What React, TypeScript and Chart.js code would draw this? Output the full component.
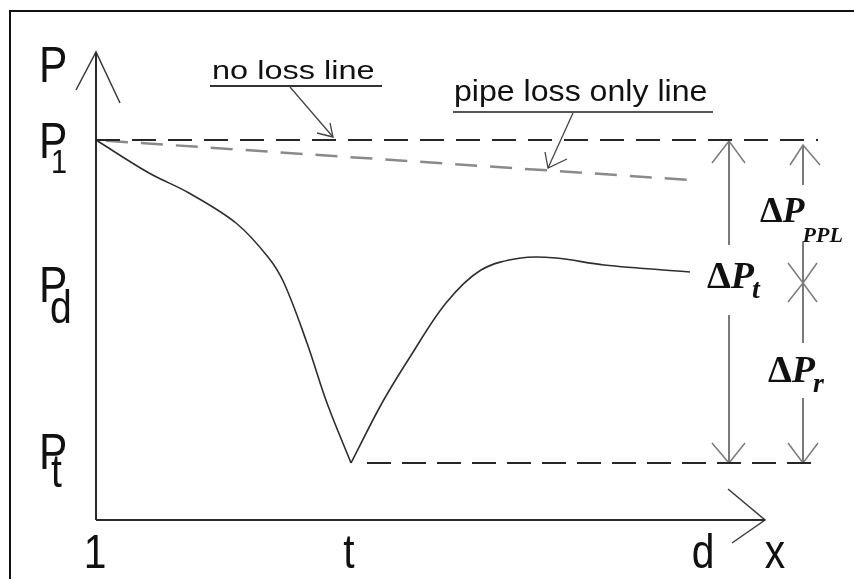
import { useEffect, useRef } from "react";
import { Chart, registerables } from "chart.js";

Chart.register(...registerables);

// Pressure levels, measured up from the distance axis
const P_1 = 380;
const P_D = 236;
const P_T = 57;
// Stations along the pipe, measured from the inlet
const X_T = 255;
const X_D = 594;
const X_END = 722;

// Actual pressure profile through the restriction
const profileDistance = [0, 53, 93, 140, 172, 188, 211, 231, 255, 286, 314, 350, 385, 425, 460, 508, 594];
const profilePressure = [380, 347, 327, 297, 263, 237, 177, 117, 57, 117, 163, 217, 250, 262, 262, 255, 248];

// Reference lines
const noLossDistance = [0, 722];
const noLossPressure = [380, 380];
const pipeLossDistance = [0, 594];
const pipeLossPressure = [380, 340];
const throatDistance = [271, 722];
const throatPressure = [57, 57];

// Axes with hand-drawn arrow heads
const pressureAxis = { x: [0, 0], y: [0, 468] };
const pressureArrow = { x: [-20, 0, 24], y: [430, 468, 417] };
const distanceAxis = { x: [0, 669], y: [0, 0] };
const distanceArrow = { x: [632, 669, 636], y: [31, 0, -23] };

// Leader lines pointing at the reference lines
const noLossLeader = { x: [194, 237], y: [433, 383] };
const noLossLeaderHead = { x: [234, 237, 221], y: [397, 383, 387] };
const noLossUnderline = { x: [114, 286], y: [434, 434] };
const pipeLossLeader = { x: [477, 452], y: [407, 352] };
const pipeLossLeaderHead = { x: [449, 452, 471], y: [368, 352, 361] };
const pipeLossUnderline = { x: [357, 617], y: [408, 408] };

// Dimension arrows for the pressure differences
const DIM_T = 633;
const DIM_R = 707;
const dimTotalUpper = { x: [DIM_T, DIM_T], y: [379, 275] };
const dimTotalUpperHead = { x: [616, DIM_T, 649], y: [357, 379, 357] };
const dimTotalLower = { x: [DIM_T, DIM_T], y: [205, 57] };
const dimTotalLowerHead = { x: [616, DIM_T, 649], y: [77, 57, 77] };
const dimPplUpper = { x: [DIM_R, DIM_R], y: [375, 335] };
const dimPplUpperHead = { x: [694, DIM_R, 724], y: [355, 375, 355] };
const dimMid = { x: [DIM_R, DIM_R], y: [278, 177] };
const dimMidDownHead = { x: [692, DIM_R, 721], y: [257, 237, 257] };
const dimMidUpHead = { x: [692, DIM_R, 721], y: [218, 237, 218] };
const dimRecLower = { x: [DIM_R, DIM_R], y: [122, 57] };
const dimRecLowerHead = { x: [692, DIM_R, 722], y: [77, 57, 77] };

const SANS = '"Liberation Sans", Arial, sans-serif';
const SERIF = '"Liberation Serif", "Times New Roman", serif';
const INK = "#111111";

type Poly = { x: number[]; y: number[] };

function pts(xs: number[], ys: number[]) {
  return xs.map((v, i) => ({ x: v, y: ys[i] }));
}

function polyline(p: Poly, color: string, width: number, dash: number[] = [], dashOffset = 0) {
  return {
    data: pts(p.x, p.y),
    showLine: true,
    borderColor: color,
    borderWidth: width,
    borderDash: dash,
    borderDashOffset: dashOffset,
    borderCapStyle: "butt",
    borderJoinStyle: "miter",
    pointRadius: 0,
    tension: 0,
    fill: false,
    clip: false,
  };
}

function text(
  ctx: CanvasRenderingContext2D,
  s: string,
  px: number,
  py: number,
  font: string,
  scaleX = 1,
  align: CanvasTextAlign = "left"
) {
  ctx.save();
  ctx.translate(px, py);
  ctx.scale(scaleX, 1);
  ctx.font = font;
  ctx.fillStyle = INK;
  ctx.textAlign = align;
  ctx.textBaseline = "alphabetic";
  ctx.fillText(s, 0, 0);
  ctx.restore();
  ctx.save();
  ctx.font = font;
  const w = ctx.measureText(s).width * scaleX;
  ctx.restore();
  return w;
}

const labelPlugin = {
  id: "schematicLabels",
  afterDatasetsDraw(chart: Chart) {
    const ctx = chart.ctx;
    const xs = chart.scales.x;
    const ys = chart.scales.y;
    const X = (v: number) => xs.getPixelForValue(v);
    const Y = (v: number) => ys.getPixelForValue(v);

    // Pressure axis: title and level labels
    const big = `50px ${SANS}`;
    const sq = 0.85;
    text(ctx, "P", X(-57), Y(438), big, sq);
    text(ctx, "P", X(-57), Y(P_1 - 18), big, sq);
    text(ctx, "1", X(-45), Y(P_1 - 33), `34px ${SANS}`, sq);
    text(ctx, "P", X(-57), Y(P_D - 18), big, sq);
    text(ctx, "d", X(-46), Y(P_D - 39), `46px ${SANS}`, sq);
    text(ctx, "P", X(-57), Y(P_T - 6), big, sq);
    text(ctx, "t", X(-45), Y(P_T - 24), `46px ${SANS}`, sq);

    // Distance axis labels
    const base = Y(-48);
    text(ctx, "1", X(-1), base, `48px ${SANS}`, sq, "center");
    text(ctx, "t", X(X_T - 2), base, `48px ${SANS}`, sq, "center");
    text(ctx, "d", X(X_D + 13), base, `48px ${SANS}`, sq, "center");
    text(ctx, "x", X(679), base, `48px ${SANS}`, sq, "center");

    // Leader captions
    text(ctx, "no loss line", X(116), Y(441), `25px ${SANS}`, 1.3);
    text(ctx, "pipe loss only line", X(358), Y(419), `30px ${SANS}`, 1.07);

    // Pressure-difference labels
    const delta = (xd: number, yd: number, sub: string, subDy: number, size: number, subSize: number) => {
      let px = X(xd);
      const py = Y(yd);
      px += text(ctx, "\u0394", px, py, `bold ${size}px ${SERIF}`);
      px += text(ctx, "P", px, py, `italic bold ${size}px ${SERIF}`) - 2;
      text(ctx, sub, px, py + subDy, `italic bold ${subSize}px ${SERIF}`);
    };
    delta(611, P_D - 4, "t", 10, 38, 28);
    delta(664, 298, "PPL", 20, 36, 22);
    delta(672, 138, "r", 10, 38, 28);
  },
};

export default function App() {
  const ref = useRef<HTMLCanvasElement | null>(null);

  useEffect(() => {
    const canvas = ref.current;
    if (!canvas) return;

    const lowest = profilePressure.indexOf(Math.min(...profilePressure));
    const falling = { x: profileDistance.slice(0, lowest + 1), y: profilePressure.slice(0, lowest + 1) };
    const rising = { x: profileDistance.slice(lowest), y: profilePressure.slice(lowest) };

    const axisColor = "#2a2a2a";
    const dimColor = "#7a7a7a";
    const leaderColor = "#444444";

    const datasets: any[] = [
      polyline({ x: noLossDistance, y: noLossPressure }, "#262626", 2, [24, 12]),
      polyline({ x: pipeLossDistance, y: pipeLossPressure }, "#8a8a8a", 2.5, [22, 13], -10),
      polyline({ x: throatDistance, y: throatPressure }, "#262626", 2, [24, 11]),
      { ...polyline(falling, "#2e2e2e", 1.6), tension: 0.35 },
      { ...polyline(rising, "#2e2e2e", 1.6), tension: 0.35 },
      polyline(pressureAxis, axisColor, 2),
      polyline(pressureArrow, "#3a3a3a", 1.5),
      polyline(distanceAxis, axisColor, 2),
      polyline(distanceArrow, "#3a3a3a", 1.5),
      polyline(noLossLeader, leaderColor, 1.3),
      polyline(noLossLeaderHead, leaderColor, 1.3),
      polyline(noLossUnderline, "#333333", 2),
      polyline(pipeLossLeader, leaderColor, 1.3),
      polyline(pipeLossLeaderHead, leaderColor, 1.3),
      polyline(pipeLossUnderline, "#555555", 2),
      polyline(dimTotalUpper, dimColor, 2),
      polyline(dimTotalUpperHead, dimColor, 1.5),
      polyline(dimTotalLower, dimColor, 2),
      polyline(dimTotalLowerHead, dimColor, 1.5),
      polyline(dimPplUpper, dimColor, 2),
      polyline(dimPplUpperHead, dimColor, 1.5),
      polyline(dimMid, dimColor, 2),
      polyline(dimMidDownHead, dimColor, 1.5),
      polyline(dimMidUpHead, dimColor, 1.5),
      polyline(dimRecLower, dimColor, 2),
      polyline(dimRecLowerHead, dimColor, 1.5),
    ];

    const chart = new Chart(canvas, {
      type: "scatter",
      data: { datasets },
      options: {
        animation: false,
        responsive: false,
        maintainAspectRatio: false,
        events: [],
        layout: { padding: 0 },
        plugins: { legend: { display: false }, tooltip: { enabled: false } },
        scales: {
          x: { type: "linear", min: -96, max: 758, display: false },
          y: { type: "linear", min: -59, max: 520, display: false },
        },
      },
      plugins: [labelPlugin],
    });
    return () => chart.destroy();
  }, []);

  return (
    <div style={{ position: "fixed", left: 0, top: 0, width: 854, height: 579, background: "#fff", overflow: "hidden" }}>
      <canvas ref={ref} width={854} height={579} style={{ display: "block" }} />
      <div
        style={{
          position: "absolute",
          left: 9,
          top: 10,
          width: 900,
          height: 600,
          borderLeft: "2px solid #111",
          borderTop: "2px solid #111",
          pointerEvents: "none",
        }}
      />
    </div>
  );
}
